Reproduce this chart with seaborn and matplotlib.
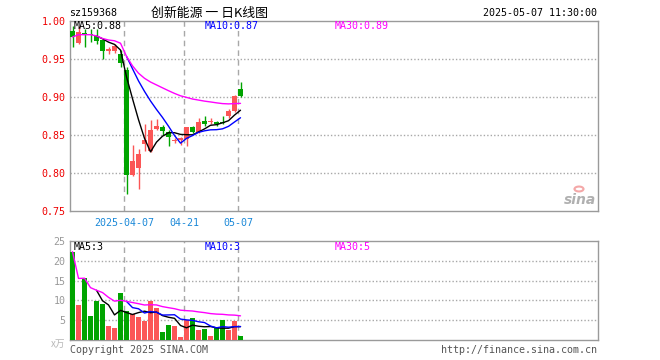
import numpy as np
import pandas as pd
import matplotlib
matplotlib.use("Agg")
import matplotlib.pyplot as plt
import seaborn as sns

# ---------------- data ----------------
dates = ["2025-03-24", "2025-03-25", "2025-03-26", "2025-03-27", "2025-03-28",
         "2025-03-31", "2025-04-01", "2025-04-02", "2025-04-03", "2025-04-07",
         "2025-04-08", "2025-04-09", "2025-04-10", "2025-04-11", "2025-04-14",
         "2025-04-15", "2025-04-16", "2025-04-17", "2025-04-18", "2025-04-21",
         "2025-04-22", "2025-04-23", "2025-04-24", "2025-04-25", "2025-04-28",
         "2025-04-29", "2025-04-30", "2025-05-06", "2025-05-07"]
opens = [0.987, 0.971, 0.984, 0.983, 0.980, 0.975, 0.961, 0.960, 0.957, 0.935,
         0.797, 0.807, 0.838, 0.829, 0.858, 0.860, 0.854, 0.842, 0.844, 0.845,
         0.860, 0.854, 0.868, 0.867, 0.867, 0.867, 0.875, 0.882, 0.910]
closes = [0.979, 0.985, 0.982, 0.982, 0.974, 0.960, 0.963, 0.967, 0.945, 0.798,
          0.816, 0.825, 0.844, 0.856, 0.862, 0.855, 0.848, 0.844, 0.845, 0.860,
          0.854, 0.867, 0.864, 0.869, 0.864, 0.866, 0.881, 0.901, 0.901]
highs = [0.993, 0.993, 0.990, 0.990, 0.990, 0.976, 0.966, 0.970, 0.962, 0.940,
         0.837, 0.832, 0.865, 0.870, 0.871, 0.863, 0.857, 0.846, 0.847, 0.860,
         0.862, 0.872, 0.875, 0.873, 0.869, 0.875, 0.884, 0.902, 0.920]
lows = [0.966, 0.970, 0.966, 0.972, 0.970, 0.950, 0.956, 0.958, 0.940, 0.772,
        0.796, 0.779, 0.829, 0.827, 0.857, 0.850, 0.835, 0.840, 0.837, 0.835,
        0.853, 0.853, 0.862, 0.864, 0.862, 0.864, 0.872, 0.880, 0.900]
volumes = [22.3, 8.8, 15.7, 6.1, 9.9, 9.1, 3.5, 3.1, 11.8, 7.2,
           6.6, 5.9, 4.9, 9.9, 8.0, 2.1, 3.8, 3.6, 0.8, 5.1,
           5.5, 2.4, 2.9, 1.1, 3.4, 5.1, 2.4, 4.9, 1.1]

tick_dates = ["2025-04-07", "2025-04-21", "2025-05-07"]
tick_labels = ["2025-04-07", "04-21", "05-07"]
price_ticks = [0.75, 0.80, 0.85, 0.90, 0.95, 1.00]
vol_ticks = [5, 10, 15, 20, 25]
price_ma_labels = ["MA5:0.88", "MA10:0.87", "MA30:0.89"]
vol_ma_labels = ["MA5:3", "MA10:3", "MA30:5"]
code_text = "sz159368"
title_text = "创新能源 一 日K线图"
time_text = "2025-05-07 11:30:00"

# ---------------- styling ----------------
RED = "#fb5656"
GREEN = "#00a400"
GRID = "#a8a8a8"
FRAME = "#9a9a9a"
MA_COLORS = ["#000000", "#0000ff", "#ff00ff"]

sns.set_theme(style="white")
plt.rcParams["font.family"] = ["DejaVu Sans Mono", "Noto Sans CJK SC"]

df = pd.DataFrame({"date": dates, "open": opens, "close": closes,
                   "high": highs, "low": lows, "vol": volumes})
df["idx"] = np.arange(len(df))
df["dir"] = np.where(df["close"] >= df["open"], "up", "down")
for col, out in (("close", "p"), ("vol", "v")):
    df[out + "ma5"] = df[col].rolling(5).mean()
    df[out + "ma10"] = df[col].rolling(10).mean()
    df[out + "ma30"] = df[col].rolling(30, min_periods=1).mean()

W, H = 660, 360
fig = plt.figure(figsize=(W / 100, H / 100), dpi=100)
fig.patch.set_facecolor("white")


def rect(x0, y0, x1, y1):
    return [x0 / W, 1 - y1 / H, (x1 - x0) / W, (y1 - y0) / H]


axp = fig.add_axes(rect(69.5, 21, 598, 211))
axv = fig.add_axes(rect(69.5, 241, 598, 340))

x_right = (598 - 72.5) / 6.0
colors = df["dir"].map({"up": RED, "down": GREEN})
dash_pos = [dates.index(d) - 0.4 for d in tick_dates]

# ----- price panel -----
body_lo = np.minimum(df["open"], df["close"])
body_h = np.maximum(np.abs(df["close"] - df["open"]), 0.0014)
axp.vlines(df["idx"], df["low"], df["high"], colors=colors, lw=1, zorder=3)
axp.bar(df["idx"], body_h, bottom=body_lo, width=0.82, color=colors,
        linewidth=0, zorder=4)
for col, c in zip(["pma5", "pma10", "pma30"], MA_COLORS):
    sub = df.dropna(subset=[col])
    sns.lineplot(data=sub, x="idx", y=col, ax=axp, color=c, lw=1,
                 errorbar=None, zorder=5)

for v in price_ticks[1:-1]:
    axp.axhline(v, color=GRID, lw=1, ls=(0, (1, 1.5)), zorder=1)
for p in dash_pos:
    axp.axvline(p, color=GRID, lw=1, ls=(0, (4, 3)), zorder=1)
    axv.axvline(p, color=GRID, lw=1, ls=(0, (4, 3)), zorder=1)

axp.set_xlim(-0.5, x_right)
axp.set_ylim(0.75, 1.00)
axp.set_yticks(price_ticks)
axp.set_yticklabels([f"{t:.2f}" for t in price_ticks], color="#ee0000",
                    fontsize=7.2)
axp.set_xticks(dash_pos)
axp.set_xticklabels(tick_labels, color="#1a88d8", fontsize=7.2)
axp.tick_params(axis="both", length=0)
axp.tick_params(axis="y", pad=3)
axp.tick_params(axis="x", pad=5)
axp.set_xlabel("")
axp.set_ylabel("")

# ----- volume panel -----
sns.barplot(data=df, x="idx", y="vol", hue="dir",
            palette={"up": RED, "down": GREEN}, dodge=False, width=0.82,
            native_scale=True, saturation=1, linewidth=0, legend=False,
            ax=axv, zorder=3)
for col, c in zip(["vma5", "vma10", "vma30"], MA_COLORS):
    sub = df.dropna(subset=[col])
    sns.lineplot(data=sub, x="idx", y=col, ax=axv, color=c, lw=1,
                 errorbar=None, zorder=5)
for v in vol_ticks[:-1]:
    axv.axhline(v, color=GRID, lw=1, ls=(0, (1, 1.5)), zorder=1)
axv.set_xlim(-0.5, x_right)
axv.set_ylim(0, 25)
axv.set_yticks(vol_ticks)
axv.set_yticklabels([str(t) for t in vol_ticks], color="#999999",
                    fontsize=7.2)
axv.set_xticks([])
axv.tick_params(axis="both", length=0)
axv.tick_params(axis="y", pad=3)
axv.set_xlabel("")
axv.set_ylabel("")

for ax in (axp, axv):
    ax.set_facecolor("white")
    for s in ax.spines.values():
        s.set_visible(True)
        s.set_color(FRAME)
        s.set_linewidth(1)

# ----- texts -----
def ftext(x, y, s, **kw):
    fig.text(x / W, 1 - y / H, s, va="center", **kw)


ftext(69, 13.5, code_text, ha="left", fontsize=7.2, color="black")
ftext(151, 13.5, title_text, ha="left", fontsize=9.3, color="black",
      family=["Noto Sans CJK SC", "DejaVu Sans"])
ftext(597, 13.5, time_text, ha="right", fontsize=7.2, color="black")

for xpos, s, c in zip([74, 205, 335], price_ma_labels, MA_COLORS):
    ftext(xpos, 26, s, ha="left", fontsize=7.2, color=c)
for xpos, s, c in zip([74, 205, 335], vol_ma_labels, MA_COLORS):
    ftext(xpos, 246.5, s, ha="left", fontsize=7.2, color=c)

ftext(65, 343.5, "x万", ha="right", fontsize=7, color="#b8b8b8",
      family=["Noto Sans CJK SC", "DejaVu Sans"])
ftext(69.5, 350, "Copyright 2025 SINA.COM", ha="left", fontsize=7.2,
      color="#555555")
ftext(597, 350, "http://finance.sina.com.cn", ha="right", fontsize=7.2,
      color="#555555")

# sina watermark
ftext(580, 200, "sina", ha="center", fontsize=10, color="#b0b0b0",
      family=["DejaVu Sans"], fontstyle="italic", fontweight="bold")
fig.add_artist(plt.Circle((579 / W, 1 - 189 / H), 4.5 / W,
                          transform=fig.transFigure, color="#f4a8a8",
                          fill=False, lw=1.5))

fig.savefig("out.png", dpi=100, facecolor="white")
